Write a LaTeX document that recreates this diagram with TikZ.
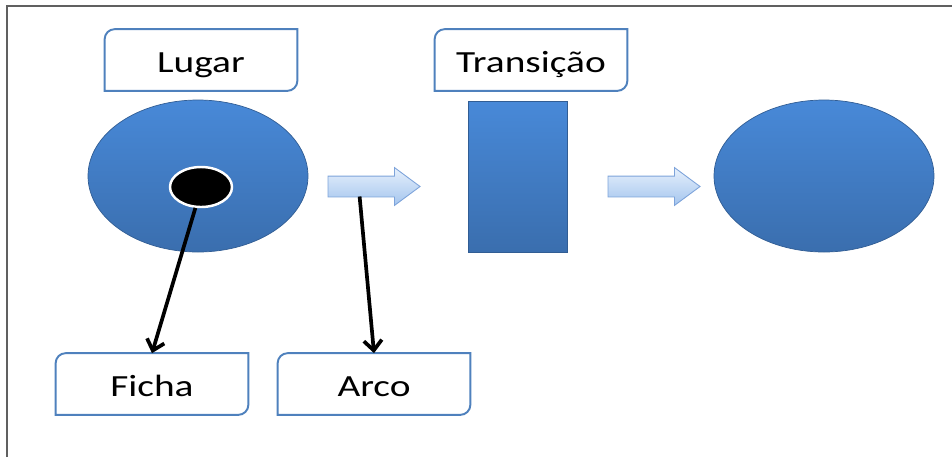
\documentclass[tikz,border=0pt]{standalone}
\usepackage{fontspec}
\setmainfont{Carlito}[FakeStretch=1.28]
\usetikzlibrary{calc}
\usetikzlibrary{positioning,arrows.meta}
\usetikzlibrary{shapes.geometric,shapes.arrows}
\definecolor{officeblue}{RGB}{79,129,189}
\definecolor{fillTop}{RGB}{72,137,216}
\definecolor{fillBottom}{RGB}{58,110,174}
\definecolor{arrowTop}{RGB}{230,240,252}
\definecolor{arrowBottom}{RGB}{164,197,238}
\definecolor{arrowLine}{RGB}{125,163,218}
\tikzstyle{tagbox}=[rectangle, minimum width=3.84cm, minimum height=1.22cm, inner sep=0pt, text height=0.48cm, text depth=0cm, font=\fontsize{17.5}{21}\selectfont]
\tikzstyle{blueshape}=[draw=fillBottom!85!black, line width=0.4pt, top color=fillTop, bottom color=fillBottom]
\tikzstyle{place}=[ellipse, blueshape, minimum width=4.4cm, minimum height=3.04cm]
\tikzstyle{trans}=[rectangle, blueshape, minimum width=1.98cm, minimum height=3.02cm]
\tikzstyle{token}=[ellipse, fill=black, draw=white, line width=1.4pt, minimum width=1.24cm, minimum height=0.8cm]
\tikzstyle{blockarrow}=[single arrow, draw=arrowLine, line width=0.5pt, top color=arrowTop, bottom color=arrowBottom, minimum height=1.84cm, inner xsep=0pt, inner ysep=0.2cm, single arrow head extend=0.17cm, single arrow tip angle=73]
\tikzstyle{pointer}=[-{Straight Barb[length=2mm,width=3.6mm]}, line width=2.1pt]
% label frame with two rounded corners (top left, bottom right)
\newcommand{\tagframe}[1]{%
  \draw[officeblue, line width=1.1pt] (#1.south west) -- ([yshift=-0.2cm]#1.north west) arc(180:90:0.2cm)
    -- (#1.north east) -- ([yshift=0.2cm]#1.south east) arc(0:-90:0.2cm) -- cycle;}

\begin{document}
\begin{tikzpicture}
\useasboundingbox (0,0) rectangle (19.04,-9.14);
\draw[gray!75!black, line width=0.9pt] (0.14,-9.14) -- (0.14,-0.12) -- (19.04,-0.12);

\node[place](placeIn) at (3.96,-3.52){};
\node[token](token) at ($(placeIn)+(0.06,-0.22)$){};
\node[tagbox](lugarTag)[above of = placeIn, xshift=0.06cm, yshift=1.32cm]{Lugar};

\node[blockarrow](arcIn) at (7.34,-3.73){};
\node[trans](trans) at (10.35,-3.53){};
\node[tagbox](transTag)[above of = trans, xshift=0.27cm, yshift=1.33cm]{Transição};

\node[blockarrow](arcOut) at (12.94,-3.73){};
\node[place](placeOut) at (16.48,-3.52){};

\node[tagbox](fichaTag) at (3.04,-7.68){Ficha};
\node[tagbox](arcoTag)[right of = fichaTag, xshift=3.44cm]{Arco};

\tagframe{lugarTag}
\tagframe{transTag}
\tagframe{fichaTag}
\tagframe{arcoTag}

\coordinate (arcFoot) at ([shift={(0.64cm,-0.2cm)}]arcIn.tail);
\path[pointer, draw] (token.255) -- (fichaTag.north);
\path[pointer, draw] (arcFoot) -- (arcoTag.north);

\end{tikzpicture}
\end{document}
